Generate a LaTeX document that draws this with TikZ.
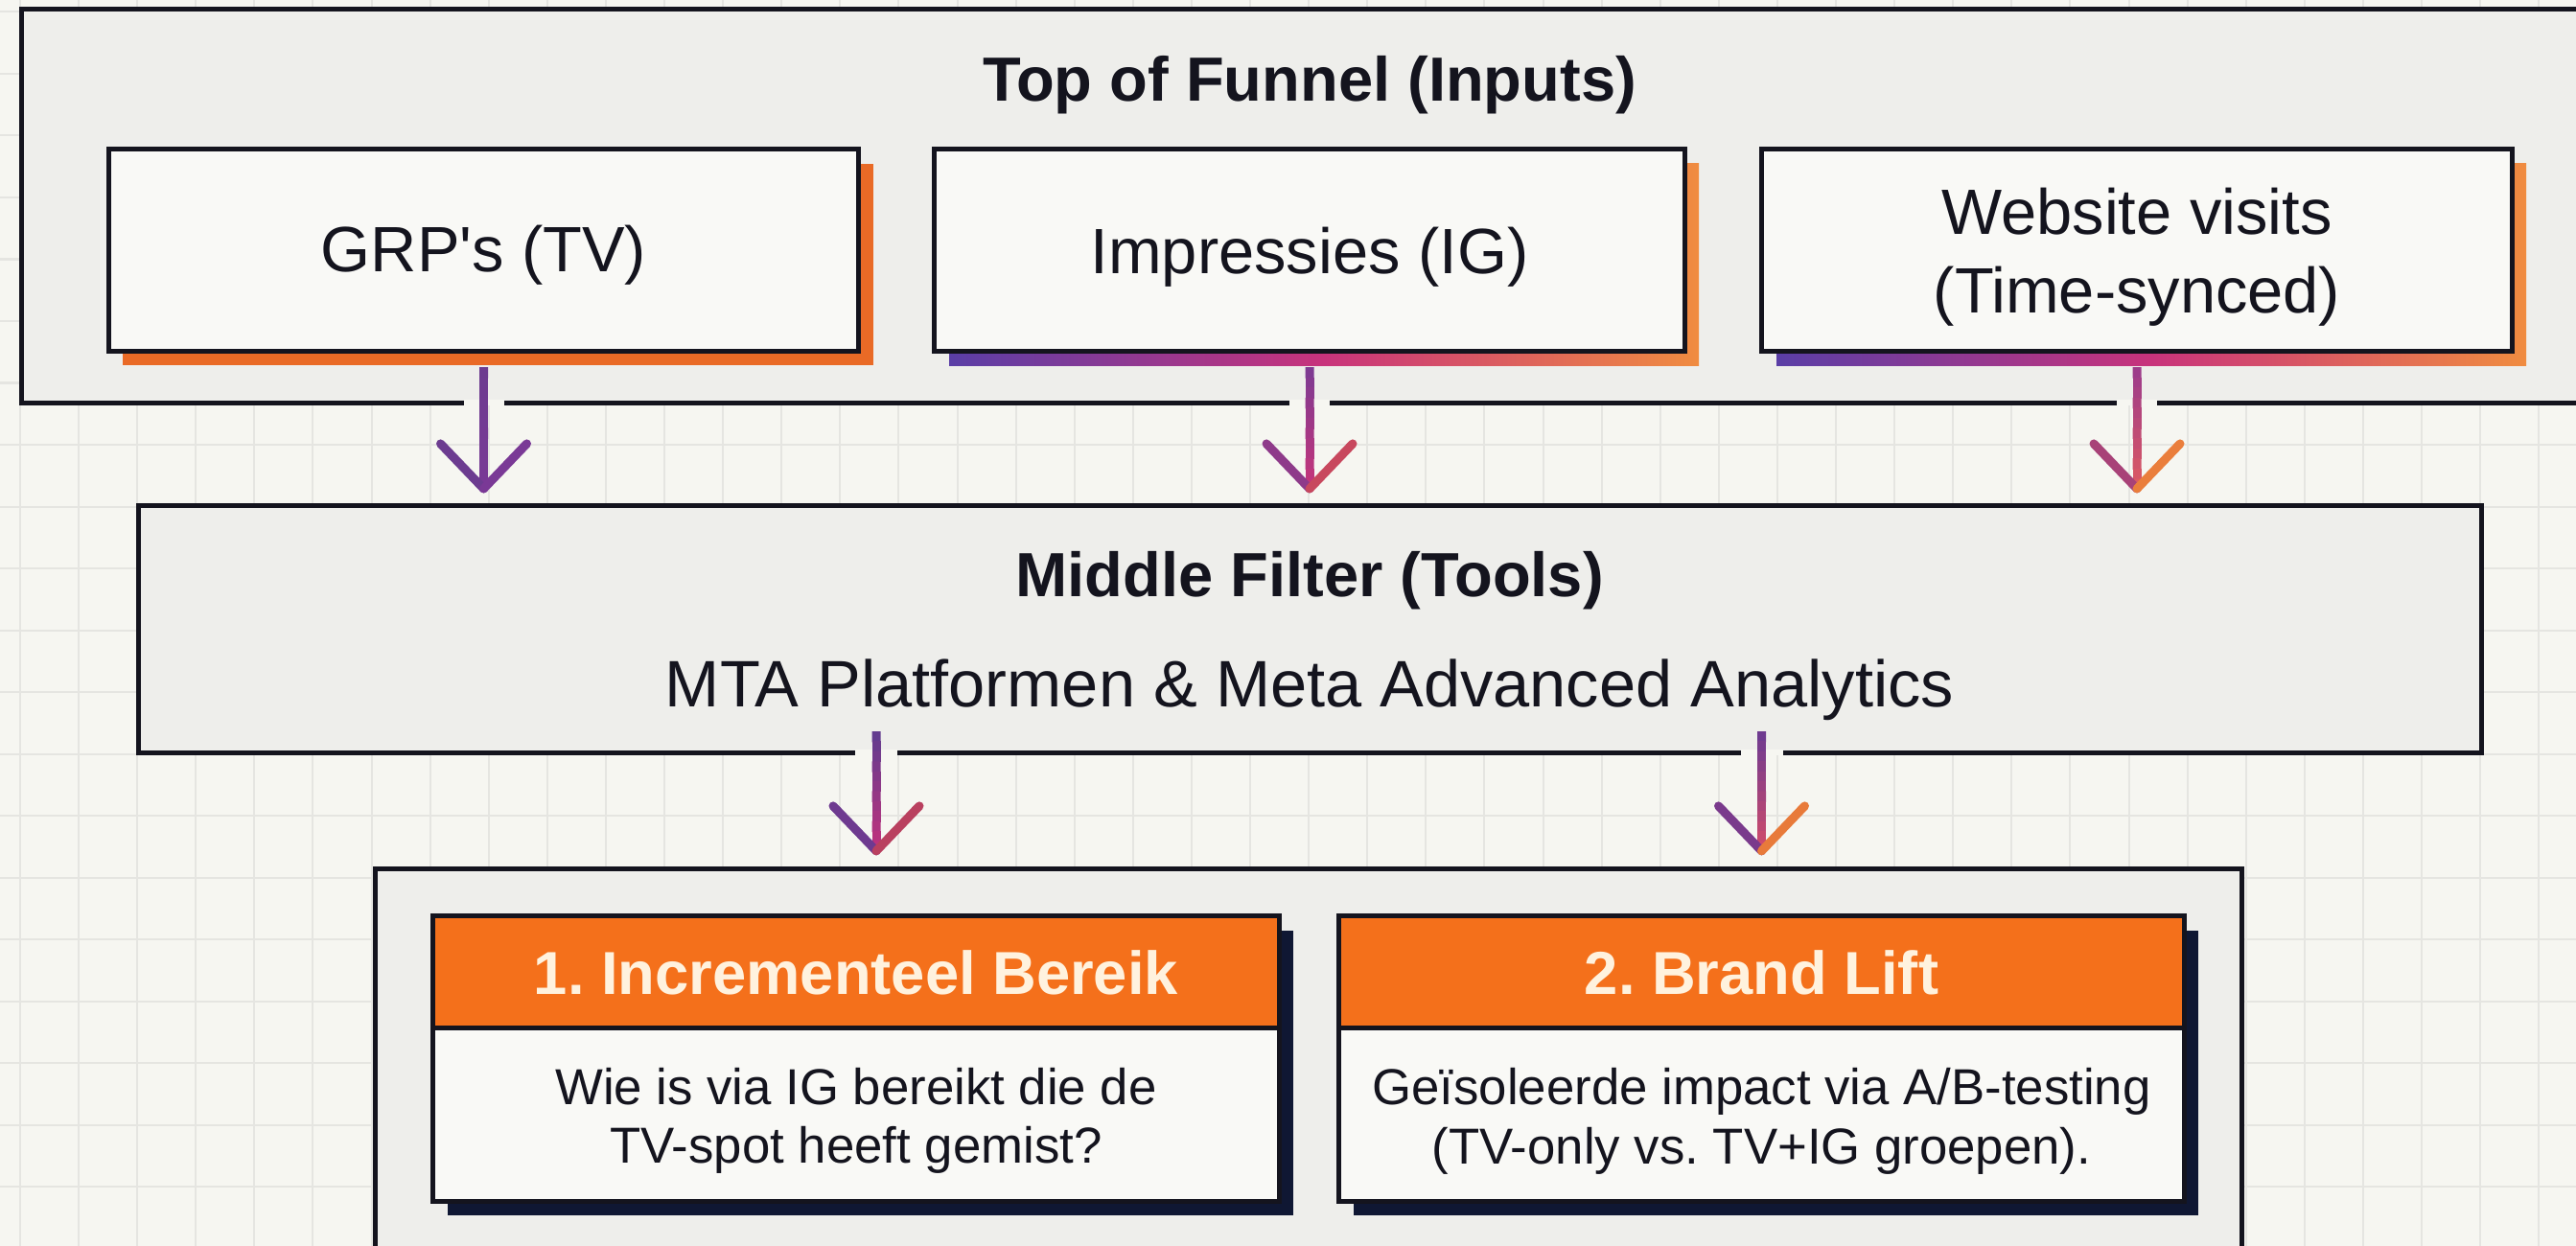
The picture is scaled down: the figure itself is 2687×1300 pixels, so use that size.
\documentclass[tikz,border=0pt]{standalone}
\usepackage{fontspec}
\setmainfont{Liberation Sans}
\frenchspacing
\usetikzlibrary{calc}
\definecolor{bgc}{HTML}{F6F6F1}
\definecolor{gridc}{HTML}{E5E5E1}
\definecolor{contc}{HTML}{EEEEEB}
\definecolor{boxc}{HTML}{F9F9F6}
\definecolor{ink}{HTML}{14141E}
\definecolor{org}{HTML}{E96A26}
\definecolor{hdr}{HTML}{F4701B}
\definecolor{navy}{HTML}{0F1733}
\definecolor{gpurp}{HTML}{5A3EA6}
\definecolor{gmag}{HTML}{C8337C}
\definecolor{gorg}{HTML}{F08C40}
\definecolor{cream}{HTML}{FFF2DE}
\definecolor{aA}{HTML}{6C3C90}
\definecolor{aB}{HTML}{7A3996}
\definecolor{bA}{HTML}{7B3A93}
\definecolor{bB}{HTML}{C7357A}
\definecolor{bL}{HTML}{8E3A8A}
\definecolor{bR}{HTML}{C8485E}
\definecolor{cA}{HTML}{9A3A8C}
\definecolor{cB}{HTML}{DE5A62}
\definecolor{cL}{HTML}{A84278}
\definecolor{cR}{HTML}{EA7E3C}
\definecolor{dA}{HTML}{5E3C90}
\definecolor{dB}{HTML}{C2327C}
\definecolor{dL}{HTML}{6E3A90}
\definecolor{dR}{HTML}{B9405F}
\definecolor{eA}{HTML}{6A3A92}
\definecolor{eB}{HTML}{D24C6A}
\definecolor{eL}{HTML}{7A3A8C}
\definecolor{eR}{HTML}{E87A3A}
\tikzset{
  gridline/.style={draw=gridc, line width=0.02cm},
  cont/.style={draw=ink, line width=0.05cm, fill=contc, inner sep=0pt, outer sep=0pt},
  inbox/.style={draw=ink, line width=0.05cm, fill=boxc, minimum width=7.82cm, minimum height=2.10cm, inner sep=0pt, outer sep=0pt},
  cardhead/.style={draw=ink, line width=0.05cm, fill=hdr, minimum width=8.82cm, minimum height=1.16cm, inner sep=0pt, outer sep=0pt},
  cardbody/.style={draw=ink, line width=0.05cm, fill=boxc, minimum width=8.82cm, minimum height=1.81cm, inner sep=0pt, outer sep=0pt},
  lbl/.style={font=\fontsize{19pt}{23pt}\selectfont, text=ink, inner sep=0pt, anchor=base},
  sublbl/.style={font=\fontsize{19.5pt}{23pt}\selectfont, text=ink, inner sep=0pt, anchor=base},
  ttl/.style={font=\bfseries\fontsize{18.5pt}{22pt}\selectfont, text=ink, inner sep=0pt, anchor=base},
  hdrtxt/.style={font=\bfseries\fontsize{18pt}{22pt}\selectfont, text=cream, inner sep=0pt, anchor=base},
  bodytxt/.style={font=\fontsize{15pt}{18pt}\selectfont, text=ink, inner sep=0pt, anchor=base},
  shaftline/.style={line width=0.09cm},
  armline/.style={line width=0.09cm, line cap=round},
}
% #1 start, #2 tip, #3 top colour, #4 tip colour, #5 left arm, #6 right arm
\newcommand{\gradarrow}[6]{%
  \foreach \i in {0,...,11}{%
    \pgfmathsetmacro\sa{\i/12}%
    \pgfmathsetmacro\sb{(\i+1)/12+0.008}%
    \pgfmathtruncatemacro\pc{100-(\i+0.5)*100/12}%
    \draw[shaftline, color=#3!\pc!#4] ($(#1)!\sa!(#2)$) -- ($(#1)!\sb!(#2)$);
  }%
  \draw[armline, color=#5] (#2) -- ++(-45,-47);
  \draw[armline, color=#6] (#2) -- ++(45,-47);
}
\begin{document}
\begin{tikzpicture}[x=0.01cm, y=-0.01cm]
\useasboundingbox (0,0) rectangle (2687,1300);
\clip (0,0) rectangle (2687,1300);
\fill[bgc] (0,0) rectangle (2687,1300);
% grid
\foreach \k in {0,...,43}{\draw[gridline] ({20.9+61.1*\k},0) -- ({20.9+61.1*\k},1300);}
\foreach \k in {0,...,20}{\draw[gridline] (0,{12.5+64.5*\k}) -- (2687,{12.5+64.5*\k});}
% containers
\node[cont, minimum width=26.97cm, minimum height=4.10cm] (top) at (1371.5,215) {};
\node[cont, minimum width=24.43cm, minimum height=2.57cm] (mid) at (1366.5,656.5) {};
\node[cont, minimum width=19.46cm, minimum height=4.13cm] (bot) at (1365,1113.5) {};
% input shadows
\fill[org] (128,171) rectangle (911,381);
\shade[left color=gpurp, right color=gorg, middle color=gmag] (990,171) rectangle (1772,381);
\shade[left color=gpurp, right color=gorg, middle color=gmag] (1853,171) rectangle (2635,381);
% input boxes
\node[inbox] (grp) at (504.5,261) {};
\node[inbox] (imp) at (1366,261) {};
\node[inbox] (web) at (2229,261) {};
% texts top
\node[ttl] (topT) at (1366,106) {Top of Funnel (Inputs)};
\node[lbl] (grpT) at (504.5,284) {GRP\textquotesingle s (TV)};
\node[lbl] (impT) at (1366,285) {Impressies (IG)};
\node[lbl] (webT1) at (2229,245) {Website visits};
\node[lbl] (webT2) at (2229,327) {(Time-synced)};
% middle texts
\node[ttl] (midT) at (1366,622) {Middle Filter (Tools)};
\node[sublbl] (midS) at (1366,737) {MTA Platformen \& Meta Advanced Analytics};
% card shadows
\fill[navy] (467,971) rectangle (1349,1268);
\fill[navy] (1412,971) rectangle (2293,1268);
% cards
\node[cardbody] (c1b) at (893,1162.5) {};
\node[cardhead] (c1h) at (893,1014) {};
\node[cardbody] (c2b) at (1837.5,1162.5) {};
\node[cardhead] (c2h) at (1837.5,1014) {};
\node[hdrtxt] (c1T) at (893,1037) {1. Incrementeel Bereik};
\node[hdrtxt] (c2T) at (1837.5,1037) {2. Brand Lift};
\node[bodytxt] (c1L1) at (893,1152) {Wie is via IG bereikt die de};
\node[bodytxt] (c1L2) at (893,1213) {TV-spot heeft gemist?};
\node[bodytxt] (c2L1) at (1837.5,1152) {Geïsoleerde impact via A/B-testing};
\node[bodytxt] (c2L2) at (1837.5,1214) {(TV-only vs. TV+IG groepen).};
% connector end points
\coordinate (a1s) at ($(grp.south)+(0,17)$);
\coordinate (a1t) at ($(grp.south |- mid.north)+(0,-18)$);
\coordinate (a2s) at ($(imp.south)+(0,17)$);
\coordinate (a2t) at ($(imp.south |- mid.north)+(0,-18)$);
\coordinate (a3s) at ($(web.south)+(0,17)$);
\coordinate (a3t) at ($(web.south |- mid.north)+(0,-18)$);
\coordinate (l1s) at ($(mid.south -| c1h.north)+(21,-22)$);
\coordinate (l1t) at ($(bot.north -| c1h.north)+(21,-19)$);
\coordinate (l2s) at ($(mid.south -| c2h.north)+(0,-22)$);
\coordinate (l2t) at ($(bot.north -| c2h.north)+(0,-19)$);
% gaps in borders
\foreach \c in {a1s,a2s,a3s}{\fill[bgc] ($(\c |- top.south)+(-21,-3)$) rectangle ($(\c |- top.south)+(21,3)$);}
\foreach \c in {l1s,l2s}{\fill[bgc] ($(\c |- mid.south)+(-22,-3)$) rectangle ($(\c |- mid.south)+(22,3)$);}
% arrows
\gradarrow{a1s}{a1t}{aA}{aB}{aA}{aB}
\gradarrow{a2s}{a2t}{bA}{bB}{bL}{bR}
\gradarrow{a3s}{a3t}{cA}{cB}{cL}{cR}
\gradarrow{l1s}{l1t}{dA}{dB}{dL}{dR}
\gradarrow{l2s}{l2t}{eA}{eB}{eL}{eR}
\end{tikzpicture}
\end{document}
